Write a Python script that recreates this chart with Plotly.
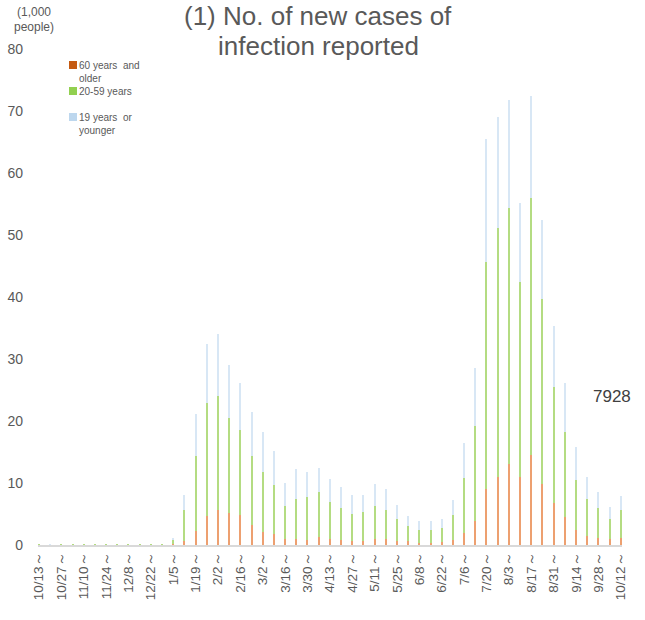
import plotly.graph_objects as go

weeks = ["10/13", "10/20", "10/27", "11/3", "11/10", "11/17", "11/24", "12/1", "12/8", "12/15",
         "12/22", "12/29", "1/5", "1/12", "1/19", "1/26", "2/2", "2/9", "2/16", "2/23",
         "3/2", "3/9", "3/16", "3/23", "3/30", "4/6", "4/13", "4/20", "4/27", "5/4",
         "5/11", "5/18", "5/25", "6/1", "6/8", "6/15", "6/22", "6/29", "7/6", "7/13",
         "7/20", "7/27", "8/3", "8/10", "8/17", "8/24", "8/31", "9/7", "9/14", "9/21",
         "9/28", "10/5", "10/12"]

# thousands of people per week
age_60_plus = [0.0, 0.01, 0.0, 0.0, 0.0, 0.0, 0.0, 0.0, 0.0, 0.0,
               0.0, 0.0, 0.1, 0.6, 2.2, 4.7, 5.7, 5.2, 4.8, 3.3,
               2.1, 1.7, 1.0, 0.9, 0.8, 1.3, 0.9, 0.8, 0.7, 0.7,
               0.9, 0.9, 0.7, 0.6, 0.4, 0.4, 0.5, 0.8, 1.9, 3.9,
               9.1, 10.9, 13.1, 10.9, 14.5, 9.9, 6.7, 4.5, 2.4, 1.5,
               1.2, 0.9, 1.2]
age_20_59 = [0.02, 0.03, 0.01, 0.01, 0.01, 0.01, 0.01, 0.01, 0.01, 0.01,
             0.01, 0.02, 0.8, 5.1, 12.1, 18.2, 18.3, 15.3, 13.7, 11.0,
             9.6, 7.9, 5.3, 6.6, 6.9, 7.2, 6.1, 5.1, 4.3, 4.7,
             5.4, 4.7, 3.5, 2.4, 2.1, 2.0, 2.2, 4.0, 8.9, 15.3,
             36.5, 40.2, 41.2, 31.6, 41.4, 29.8, 18.8, 13.7, 8.1, 6.0,
             4.7, 3.3, 4.4]
age_0_19 = [0.0, 0.01, 0.0, 0.0, 0.0, 0.0, 0.0, 0.0, 0.0, 0.0,
            0.0, 0.0, 0.1, 2.4, 6.9, 9.5, 10.0, 8.5, 7.7, 7.1,
            6.6, 5.6, 3.7, 4.8, 4.0, 4.0, 3.7, 3.5, 3.0, 2.6,
            3.5, 3.4, 2.3, 1.6, 1.4, 1.4, 1.5, 2.5, 5.6, 9.3,
            19.9, 18.0, 17.5, 12.6, 16.6, 12.8, 9.8, 7.9, 5.3, 3.5,
            2.6, 2.0, 2.3]
last_week_total = 7928

grey = "#595959"
font = "Liberation Sans, Arial, sans-serif"

# name, values, bar colour, legend colour
series = [
    ("60 years  and<br>older", age_60_plus, "#EDA070", "#C55A11"),
    ("20-59 years", age_20_59, "#B4DC82", "#92D050"),
    ("19 years  or<br>younger", age_0_19, "#D8E7F5", "#BDD7EE"),
]

# plot area in pixels (for placing title / legend)
L, R, T, B = 38, 622, 49, 545


def px_x(p):
    return (p - L) / (R - L)


def px_y(p):
    return (B - p) / (B - T)


fig = go.Figure()
for name, vals, color, _ in series:
    fig.add_trace(go.Bar(x=weeks, y=vals, name=name, marker_color=color,
                         marker_line_width=0, width=0.12, showlegend=False))

fig.update_layout(
    barmode="stack",
    width=645, height=620,
    margin=dict(l=L, r=645 - R, t=T, b=620 - B),
    paper_bgcolor="white", plot_bgcolor="white",
    font=dict(family=font, color=grey),
    showlegend=False,
)

fig.update_xaxes(
    type="category", range=[-0.1, 52.1], automargin=False,
    tickvals=weeks[::2], ticktext=[w + "～" for w in weeks[::2]],
    tickangle=-90, tickfont=dict(size=13.5, color=grey),
    showline=True, linecolor="#d9d9d9", linewidth=2,
    showgrid=False, ticks="",
)
fig.update_yaxes(
    range=[0, 80], dtick=10, showgrid=False, zeroline=False, automargin=False,
    showline=False, ticks="", tickfont=dict(size=14, color=grey),
    ticklabelstandoff=14,
)

# title, one line per annotation
for line, yc in [("(1) No. of new cases of", 16), ("infection reported", 46)]:
    fig.add_annotation(text=line, xref="paper", yref="paper",
                       x=px_x(318), y=px_y(yc), xanchor="center", yanchor="middle",
                       showarrow=False, font=dict(size=26, color=grey))
# unit
for line, yc in [("(1,000", 12), ("people)", 27)]:
    fig.add_annotation(text=line, xref="paper", yref="paper",
                       x=px_x(34), y=px_y(yc), xanchor="center", yanchor="middle",
                       showarrow=False, font=dict(size=12, color=grey))
# last week value
fig.add_annotation(text=str(last_week_total), xref="x", yref="y",
                   x=51.2, y=23.9, showarrow=False,
                   font=dict(size=17, color="#404040"))

# legend
legend_rows = [65, 91, 117]
for (name, _, _, lc), yc in zip(series, legend_rows):
    fig.add_shape(type="rect", xref="paper", yref="paper",
                  x0=px_x(69), x1=px_x(77), y0=px_y(yc + 4), y1=px_y(yc - 4),
                  fillcolor=lc, line_width=0)
    fig.add_annotation(text=name, xref="paper", yref="paper",
                       x=px_x(77), y=px_y(yc - 7), xanchor="left", yanchor="top",
                       align="left", showarrow=False,
                       font=dict(size=10, color=grey))

fig.write_html("out.html", config={"displayModeBar": False},
               post_script="document.body.style.margin='0';")
